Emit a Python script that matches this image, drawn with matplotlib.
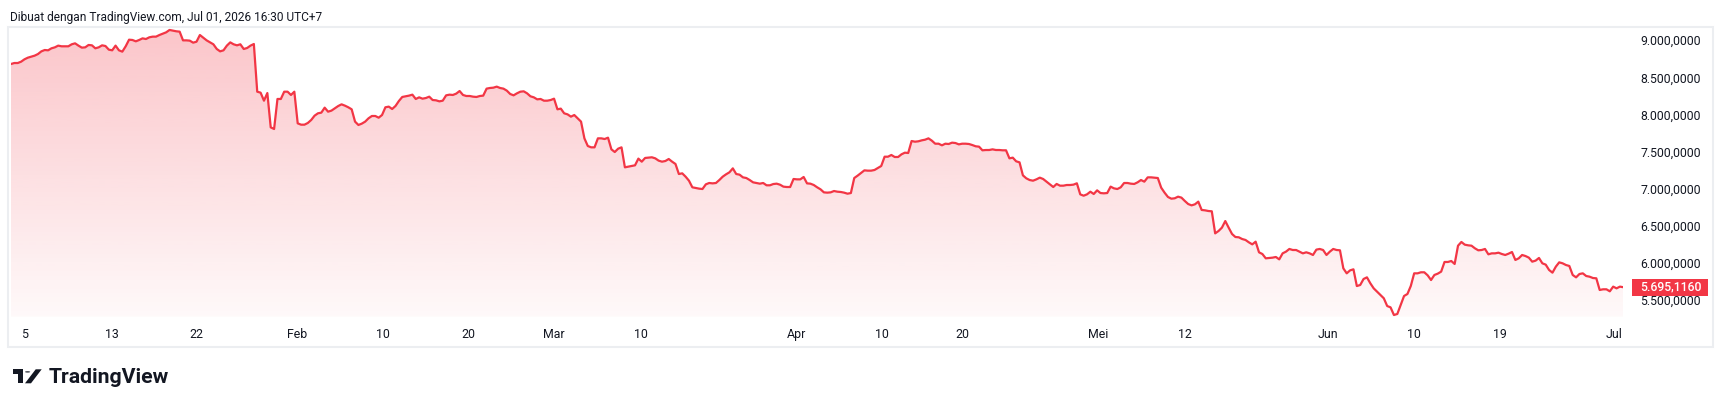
import numpy as np
import matplotlib
matplotlib.use("Agg")
import matplotlib.pyplot as plt
from matplotlib.patches import Rectangle, Polygon, Circle, FancyBboxPatch
from matplotlib.transforms import blended_transform_factory

plt.rcParams['font.family'] = ['Roboto', 'DejaVu Sans']

# ---------------- data ----------------
jan_feb = [8700, 8713, 8713, 8731, 8763, 8785, 8799, 8812, 8834, 8870, 8888, 8884, 8911, 8924, 8947,
           8938, 8938, 8938, 8965, 8978, 8947, 8920, 8924, 8956, 8951, 8911, 8924, 8951, 8942, 8893,
           8884, 8947, 8884, 8866, 8938, 9027, 9023, 9005, 9023, 9045, 9036, 9059, 9068, 9068, 9090,
           9108, 9126, 9158, 9149, 9140, 9135, 9018, 9018, 9014, 8987, 9000, 9090, 9054, 9018, 8991,
           8965, 8902, 8870, 8884, 8947, 8991, 8965, 8951, 8965, 8902, 8915, 8947, 8969, 8327, 8314,
           8206, 8309, 7847, 7825, 8229, 8229, 8327, 8327, 8283, 8327, 7901, 7883, 7883, 7906, 7946,
           8004, 8036, 8045, 8112, 8058, 8072, 8103, 8134, 8157, 8139, 8117]
feb_mar = [8090, 7924, 7879, 7897, 7924, 7969, 8000, 8000, 7977, 8013, 8117, 8126, 8094, 8135, 8202,
           8256, 8265, 8274, 8287, 8229, 8251, 8233, 8242, 8260, 8215, 8211, 8197, 8206, 8278, 8287,
           8283, 8301, 8336, 8283, 8269, 8269, 8260, 8256, 8269, 8274, 8368, 8377, 8381, 8395, 8377,
           8368, 8341, 8296, 8278, 8305, 8327, 8332, 8305, 8265, 8251, 8224, 8229, 8206, 8206, 8215,
           8233, 8090, 8099, 8036, 8022, 7991, 8013, 7969, 7924, 7699, 7596, 7578, 7578, 7699, 7699,
           7690, 7708, 7551, 7515, 7560, 7578, 7309, 7318, 7327, 7336, 7426, 7385, 7435, 7439, 7444,
           7430, 7399, 7385, 7394, 7421, 7385, 7354, 7219, 7228, 7183]
mar_apr = [7129, 7040, 7031, 7022, 7017, 7080, 7098, 7093, 7098, 7138, 7183, 7215, 7242, 7295, 7219,
           7210, 7174, 7165, 7138, 7107, 7098, 7089, 7098, 7067, 7067, 7084, 7089, 7075, 7049, 7044,
           7044, 7152, 7147, 7147, 7179, 7093, 7089, 7071, 7040, 7013, 6972, 6968, 6972, 6990, 6981,
           6977, 6968, 6954, 6963, 7165, 7197, 7233, 7268, 7264, 7264, 7273, 7300, 7327, 7452, 7452,
           7475, 7448, 7448, 7484, 7506, 7502, 7663, 7654, 7659, 7672, 7681, 7699, 7668, 7627, 7627,
           7605, 7627, 7623, 7641, 7636, 7618, 7627, 7627, 7623, 7609, 7592, 7587, 7538, 7542, 7542,
           7551, 7542, 7542, 7538, 7538, 7430, 7439, 7390, 7376, 7201, 7161]
apr_jun = [7138, 7129, 7147, 7170, 7152, 7116, 7080, 7044, 7085, 7062, 7062, 7071, 7071, 7076, 7094,
           6945, 6927, 6945, 6981, 6950, 6999, 6963, 6959, 6963, 7049, 7026, 7017, 7040, 7098, 7098,
           7089, 7085, 7107, 7138, 7116, 7174, 7174, 7170, 7165, 7035, 6968, 6910, 6887, 6892, 6914,
           6901, 6856, 6815, 6797, 6811, 6847, 6735, 6730, 6721, 6717, 6420, 6452, 6497, 6586, 6497,
           6412, 6371, 6367, 6344, 6331, 6299, 6272, 6308, 6165, 6142, 6084, 6088, 6093, 6102, 6070,
           6151, 6174, 6210, 6196, 6196, 6174, 6151, 6165, 6151, 6129, 6201, 6210, 6196, 6129, 6174,
           6210, 6196, 6192, 5949, 5882, 5922, 5936, 5711, 5725, 5806, 5828, 5748]
jun_jul = [5680, 5635, 5590, 5546, 5442, 5424, 5321, 5335, 5456, 5577, 5604, 5712, 5882, 5882, 5896,
           5896, 5855, 5792, 5860, 5878, 5905, 6035, 6035, 6048, 6008, 6254, 6304, 6268, 6259, 6254,
           6219, 6192, 6196, 6210, 6138, 6151, 6151, 6160, 6142, 6129, 6147, 6169, 6062, 6084, 6129,
           6115, 6093, 6039, 6053, 6089, 6017, 5999, 5927, 5891, 5972, 6030, 6017, 5994, 5981, 5860,
           5828, 5873, 5882, 5846, 5837, 5819, 5815, 5658, 5667, 5667, 5640, 5703, 5680, 5703, 5695.1160]

tick_pos = [4.0, 29.8, 55.0, 84.7, 110.3, 135.7, 160.8, 186.9, 233.0, 258.1, 282.2, 322.3, 348.1,
            390.4, 416.0, 441.5, 475.3]
tick_labels = ['5', '13', '22', 'Feb', '10', '20', 'Mar', '10', 'Apr', '10', '20', 'Mei', '12',
               'Jun', '10', '19', 'Jul']
price_ticks = [5500, 6000, 6500, 7000, 7500, 8000, 8500, 9000]
title_text = "Dibuat dengan TradingView.com, Jul 01, 2026 16:30 UTC+7"

values = np.array(jan_feb + feb_mar + mar_apr + apr_jun + jun_jul, dtype=float)
x = np.arange(len(values))
last_value = values[-1]

# ---------------- styling ----------------
RED = '#f23645'
TXT = '#131722'
W, H = 1724, 407


def fmt(v):
    s = f"{v:,.4f}"
    return s.replace(',', '_').replace('.', ',').replace('_', '.')


def rect_px(x0, y0, x1, y1):
    return [x0 / W, 1 - y1 / H, (x1 - x0) / W, (y1 - y0) / H]


fig = plt.figure(figsize=(W / 100, H / 100), dpi=100)
fig.patch.set_facecolor('white')

# pane border
fig.add_artist(Rectangle((8.5 / W, 1 - 346.5 / H), (1713.5 - 8.5) / W, (346.5 - 26.5) / H,
                         transform=fig.transFigure, fill=False, edgecolor='#eceef1', linewidth=1.5))

ax = fig.add_axes(rect_px(11, 26, 1623.3, 316.7))
ybot, ytop = 5298.3, 9211.3
ax.set_xlim(0, len(values) - 1)
ax.set_ylim(ybot, ytop)
ax.axis('off')

# gradient area fill
n = 256
alphas = np.linspace(0.03, 0.29, n)
grad = np.zeros((n, 1, 4))
grad[:, 0, 0] = 242 / 255
grad[:, 0, 1] = 54 / 255
grad[:, 0, 2] = 69 / 255
grad[:, 0, 3] = alphas
poly = ax.fill_between(x, values, ybot, facecolor='none', edgecolor='none')
im = ax.imshow(grad, extent=[0, len(values) - 1, ybot, ytop], origin='lower', aspect='auto',
               interpolation='bilinear', zorder=1)
im.set_clip_path(poly.get_paths()[0], transform=ax.transData)

ax.plot(x, values, color=RED, linewidth=1.6, solid_joinstyle='round', zorder=3)

# price axis labels
tr_y = blended_transform_factory(fig.transFigure, ax.transData)
for v in price_ticks:
    ax.text(1701 / W, v, fmt(v), transform=tr_y, ha='right', va='center', fontsize=8.8,
            color=TXT, clip_on=False)

# last price tag
tag_h = 16.7 / 74.29 * 1000
ax.add_patch(FancyBboxPatch((1632.0 / W, last_value - tag_h / 2), 75.7 / W, tag_h,
                            boxstyle='square,pad=0', transform=tr_y, facecolor=RED,
                            edgecolor='none', clip_on=False, zorder=5))
ax.text(1701.5 / W, last_value, fmt(last_value), transform=tr_y, ha='right', va='center',
        fontsize=8.8, fontweight='medium', color='white', clip_on=False, zorder=6)

# time axis labels
tr_x = blended_transform_factory(ax.transData, fig.transFigure)
for p, lab in zip(tick_pos, tick_labels):
    ax.text(p, 1 - 338 / H, lab, transform=tr_x, ha='center', va='baseline', fontsize=8.9,
            color=TXT, clip_on=False)

# header
fig.text(10 / W, 1 - 21 / H, title_text, ha='left', va='baseline', fontsize=8.6, color=TXT)

# TradingView logo
def P(xp, yp):
    return (xp / W, 1 - yp / H)

fig.add_artist(Polygon([P(12.7, 369.3), P(23.5, 369.3), P(23.5, 383.3), P(18.2, 383.3),
                        P(18.2, 374.2), P(12.7, 374.2)], closed=True,
                       transform=fig.transFigure, facecolor=TXT, edgecolor='none'))
fig.add_artist(Circle(P(27.6, 371.9), 2.6 / W, transform=fig.transFigure, facecolor=TXT,
                      edgecolor='none'))
fig.add_artist(Polygon([P(25.0, 383.3), P(31.0, 383.3), P(41.7, 369.3), P(35.7, 369.3)],
                       closed=True, transform=fig.transFigure, facecolor=TXT, edgecolor='none'))
fig.text(49 / W, 1 - 383.3 / H, 'TradingView', ha='left', va='baseline', fontsize=15.3,
         fontweight='semibold', color=TXT)

fig.savefig('out.png', dpi=100, facecolor='white')
